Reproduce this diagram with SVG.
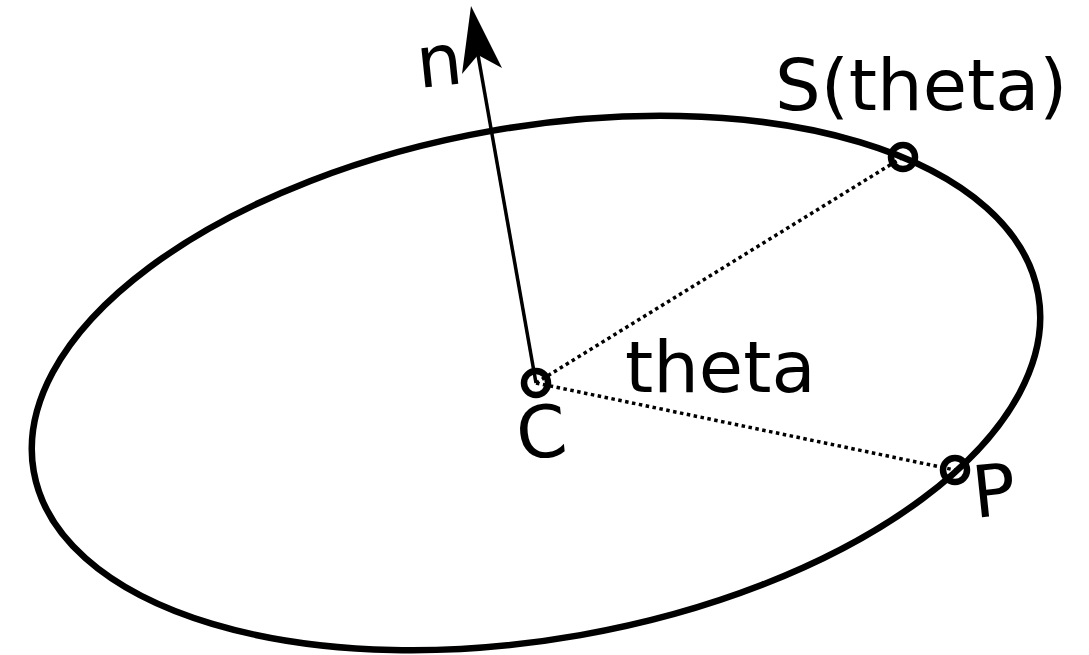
<svg xmlns="http://www.w3.org/2000/svg" width="1089" height="655" viewBox="0 0 1089 655">
<style>
.lbl{font-family:"DejaVu Sans",sans-serif;font-size:72px;fill:#000}
.dot{fill:none;stroke:#000;stroke-width:3.5;stroke-dasharray:3.5 3.5}
.pt{fill:none;stroke:#000;stroke-width:6.5}
</style>
<rect width="1089" height="655" fill="#fff"/>
<g id="ellipse">
<ellipse cx="536" cy="383" rx="510" ry="256" transform="rotate(-10 536 383)" fill="none" stroke="#000" stroke-width="6.5"/>
</g>
<g id="connectors">
<line class="dot" x1="536" y1="383" x2="903" y2="157"/>
<line class="dot" x1="536" y1="383" x2="955" y2="470"/>
<line x1="536" y1="383" x2="478" y2="55" stroke="#000" stroke-width="3.5"/>
<path d="M471 6 L502 68 L478 55 L462 74 Z" fill="#000"/>
</g>
<g id="C"><circle class="pt" cx="536" cy="383" r="12"/><text class="lbl" x="519" y="460" transform="rotate(-6 519 460)">C</text></g>
<g id="S"><circle class="pt" cx="903" cy="157" r="12"/><text class="lbl" x="775" y="110">S(theta)</text></g>
<g id="P"><circle class="pt" cx="955" cy="470" r="12"/><text class="lbl" x="975" y="518" transform="rotate(-6 975 518)">P</text></g>
<g id="n"><text class="lbl" x="419" y="88" transform="rotate(-6 419 88)">n</text></g>
<g id="theta"><text class="lbl" x="625" y="392">theta</text></g>
</svg>
